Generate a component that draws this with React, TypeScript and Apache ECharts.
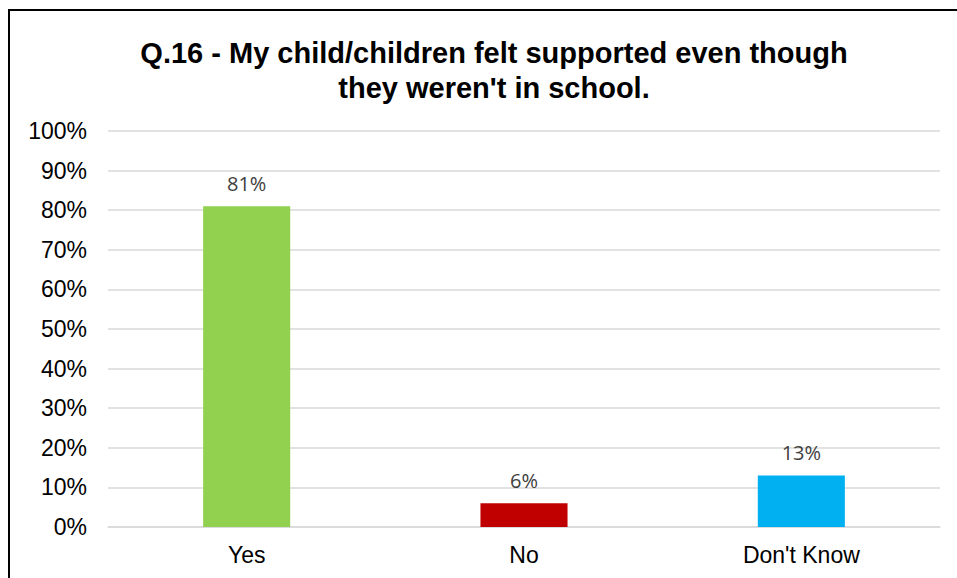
import React, { useEffect, useRef } from "react";
import * as echarts from "echarts";

const titleLines = ["Q.16 - My child/children felt supported even though", "they weren't in school."];
const categories = ["Yes", "No", "Don't Know"];
const values = [81, 6, 13];
const barColors = ["#92D050", "#C00000", "#00B0F0"];

export default function App() {
  const ref = useRef<HTMLDivElement>(null);
  useEffect(() => {
    if (!ref.current) return;
    const chart = echarts.init(ref.current, undefined, { renderer: "svg" });
    chart.setOption({
      animation: false,
      backgroundColor: "transparent",
      title: {
        text: titleLines.join("\n"),
        left: 489,
        top: 30,
        textAlign: "center",
        textStyle: {
          fontFamily: "Liberation Sans, Arial, sans-serif",
          fontWeight: "bold",
          fontSize: 29,
          lineHeight: 35,
          color: "#000000",
        },
      },
      grid: { left: 108, right: 17, top: 131, bottom: 51 },
      xAxis: {
        type: "category",
        data: categories,
        axisTick: { show: false },
        axisLine: { show: true, lineStyle: { color: "#d9d9d9", width: 1.5 } },
        axisLabel: {
          color: "#000000",
          fontFamily: "Liberation Sans, Arial, sans-serif",
          fontSize: 23,
          margin: 16,
        },
      },
      yAxis: {
        type: "value",
        min: 0,
        max: 100,
        interval: 10,
        axisLine: { show: false },
        axisTick: { show: false },
        splitLine: { lineStyle: { color: "#d9d9d9", width: 1.5 } },
        axisLabel: {
          formatter: "{value}%",
          color: "#000000",
          fontFamily: "Liberation Sans, Arial, sans-serif",
          fontSize: 23,
          margin: 21,
        },
      },
      series: [
        {
          type: "bar",
          barWidth: "31.4%",
          data: values.map((v, i) => ({ value: v, itemStyle: { color: barColors[i] } })),
          label: {
            show: true,
            position: "top",
            distance: 13,
            formatter: "{c}%",
            color: "#404040",
            fontFamily: "Open Sans, Noto Sans, sans-serif",
            fontSize: 20,
          },
        },
      ],
    });
    return () => chart.dispose();
  }, []);
  return (
    <div style={{ position: "fixed", left: 0, top: 0, width: 957, height: 578, overflow: "hidden", background: "#fff" }}>
      <div
        style={{
          position: "absolute",
          left: 8,
          top: 9,
          width: 1200,
          height: 1200,
          border: "2px solid #000",
          boxSizing: "border-box",
        }}
      />
      <div ref={ref} style={{ position: "absolute", left: 0, top: 0, width: 957, height: 578 }} />
    </div>
  );
}
